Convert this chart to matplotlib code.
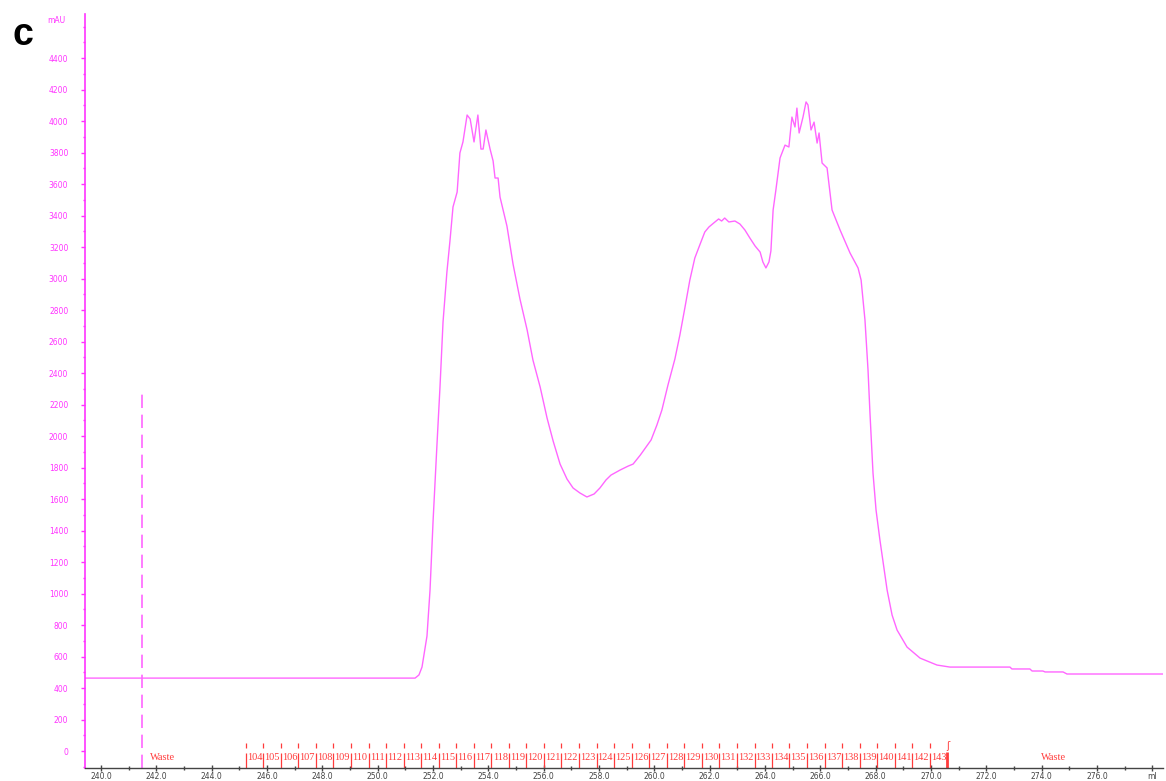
import numpy as np
import matplotlib
matplotlib.use("Agg")
import matplotlib.pyplot as plt
from matplotlib.ticker import MultipleLocator, FixedLocator, FixedFormatter

#----------------------------------------------------------------
# Data (volume in ml, absorbance in mAU)
volume = [239.42, 251.35, 251.49, 251.60, 251.78, 251.89, 252.00, 252.14, 252.25, 252.36,
          252.50, 252.61, 252.72, 252.87, 252.97, 253.08, 253.23, 253.34, 253.48, 253.62,
          253.73, 253.81, 253.91, 254.06, 254.17, 254.24, 254.35, 254.42, 254.67, 254.89,
          255.14, 255.40, 255.61, 255.87, 256.12, 256.34, 256.59, 256.84, 257.06, 257.31,
          257.56, 257.82, 258.03, 258.25, 258.43, 258.76, 259.05, 259.23, 259.49, 259.88,
          260.09, 260.27, 260.49, 260.74, 260.92, 261.10, 261.28, 261.46, 261.64, 261.82,
          261.97, 262.14, 262.32, 262.43, 262.54, 262.69, 262.91, 263.09, 263.27, 263.45,
          263.64, 263.82, 263.92, 264.03, 264.14, 264.21, 264.29, 264.39, 264.54, 264.72,
          264.86, 264.97, 265.08, 265.15, 265.23, 265.37, 265.48, 265.55, 265.66, 265.77,
          265.88, 265.95, 266.06, 266.24, 266.42, 266.71, 267.07, 267.36, 267.47, 267.61,
          267.72, 267.79, 267.90, 268.01, 268.15, 268.41, 268.59, 268.77, 269.13, 269.60,
          270.21, 270.68, 272.85, 272.92, 273.57, 273.65, 274.04, 274.12, 274.77, 274.91,
          278.38]
mau = [463, 463, 483, 533, 730, 1022, 1460, 1943, 2311, 2724,
       3041, 3238, 3454, 3549, 3797, 3867, 4038, 4013, 3867, 4038,
       3822, 3822, 3943, 3822, 3746, 3638, 3638, 3517, 3333, 3092,
       2870, 2673, 2482, 2311, 2114, 1968, 1822, 1727, 1670, 1638,
       1613, 1632, 1670, 1721, 1752, 1784, 1809, 1822, 1879, 1975,
       2070, 2165, 2324, 2489, 2641, 2813, 2990, 3130, 3213, 3295,
       3327, 3352, 3378, 3365, 3384, 3359, 3365, 3346, 3308, 3257,
       3206, 3168, 3105, 3067, 3105, 3175, 3435, 3562, 3765, 3847,
       3835, 4025, 3962, 4082, 3924, 4025, 4121, 4102, 3943, 3993,
       3860, 3924, 3733, 3702, 3435, 3308, 3162, 3067, 2990, 2736,
       2419, 2146, 1765, 1530, 1340, 1022, 863, 768, 660, 590,
       546, 533, 533, 521, 521, 508, 508, 502, 502, 489,
       489]

# Injection mark
inject_volume = 241.48
inject_height = 2280

# Fractions 104..143 and their boundaries
fraction_names = ['104', '105', '106', '107', '108', '109', '110', '111', '112', '113',
                  '114', '115', '116', '117', '118', '119', '120', '121', '122', '123',
                  '124', '125', '126', '127', '128', '129', '130', '131', '132', '133',
                  '134', '135', '136', '137', '138', '139', '140', '141', '142', '143']
fraction_edges = [245.23, 245.86, 246.50, 247.13, 247.77, 248.40, 249.03, 249.67, 250.30, 250.94,
                  251.57, 252.20, 252.84, 253.47, 254.11, 254.74, 255.37, 256.01, 256.64, 257.28,
                  257.91, 258.54, 259.18, 259.81, 260.45, 261.08, 261.71, 262.35, 262.98, 263.62,
                  264.25, 264.88, 265.52, 266.15, 266.79, 267.42, 268.05, 268.69, 269.32, 269.96,
                  270.59]
waste_positions = [241.77, 273.97]

x_ticks = [240, 242, 244, 246, 248, 250, 252, 254, 256, 258, 260, 262, 264, 266, 268, 270,
           272, 274, 276, 278]
x_tick_labels = ['%.1f' % v for v in x_ticks[:-1]] + ['ml']
#----------------------------------------------------------------

#----------------------------------------------------------------
# Styles
curve_col = '#ff66ff'
axis_col = '#ff33ff'
frac_col = '#ff3b3b'
ymin, ymax = -108, 4679
xmin, xmax = 239.42, 278.38
#----------------------------------------------------------------

fig = plt.figure(figsize=(11.66, 7.81), dpi=100)
ax = fig.add_axes([0.0729, 0.0166, 0.9245, 0.9654])

ax.plot(volume, mau, color=curve_col, lw=1.0)
ax.vlines(inject_volume, ymin, inject_height, colors=curve_col, lw=1.2,
          linestyles=(0, (8, 4)))

# fraction marks
for i, edge in enumerate(fraction_edges):
    if i == len(fraction_edges) - 1:
        ax.vlines(edge, ymin, -5, colors=frac_col, lw=2.0)
        ax.text(edge, 30, 'ʃ', color=frac_col, fontsize=7, ha='center', va='center')
    else:
        ax.vlines(edge, 19, 51, colors=frac_col, lw=0.9)
        ax.vlines(edge, ymin, -13, colors=frac_col, lw=0.9)
for i, name in enumerate(fraction_names):
    mid = (fraction_edges[i] + fraction_edges[i + 1]) / 2
    ax.text(mid, -40, name, color=frac_col, fontsize=7.5, ha='center', va='center',
            family='Liberation Serif')
for xv in waste_positions:
    ax.text(xv, -40, 'Waste', color=frac_col, fontsize=7.5, ha='left', va='center',
            family='Liberation Serif')

ax.set_xlim(xmin, xmax)
ax.set_ylim(ymin, ymax)

for s in ['top', 'right']:
    ax.spines[s].set_visible(False)
ax.spines['left'].set_color(axis_col)
ax.spines['left'].set_linewidth(1.2)
ax.spines['bottom'].set_color('#444444')
ax.spines['bottom'].set_linewidth(1.0)

ax.set_yticks(np.arange(0, 4401, 200))
ax.yaxis.set_minor_locator(MultipleLocator(100))
ax.tick_params(axis='y', which='major', colors=axis_col, length=3, width=1, pad=9,
               labelsize=5.5)
ax.tick_params(axis='y', which='minor', colors=axis_col, length=1.5, width=1)

ax.xaxis.set_major_locator(FixedLocator(x_ticks))
ax.xaxis.set_major_formatter(FixedFormatter(x_tick_labels))
ax.xaxis.set_minor_locator(MultipleLocator(1))
ax.tick_params(axis='x', which='major', direction='inout', colors='#444444', length=5,
               width=1, pad=0.5, labelsize=5.5)
ax.tick_params(axis='x', which='minor', direction='inout', colors='#444444', length=2.5,
               width=1)

ax.text(-0.027, 0.992, 'mAU', transform=ax.transAxes, color=axis_col, fontsize=5.5,
        ha='center', va='center')
fig.text(0.02, 0.955, 'c', fontsize=27, fontweight='bold', family='Liberation Sans',
         ha='center', va='center')

fig.savefig('out.png', dpi=100)
